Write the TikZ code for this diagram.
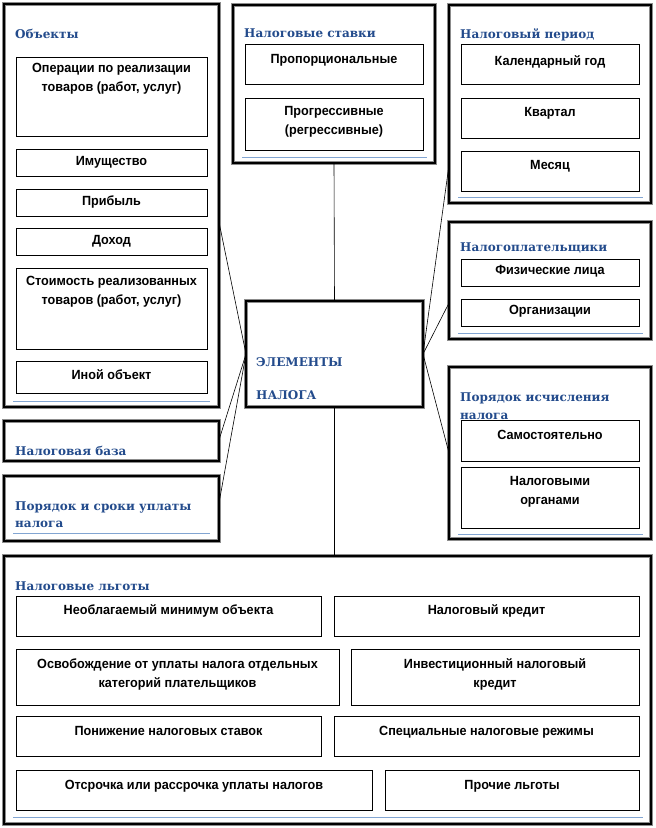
\documentclass[tikz,border=0pt]{standalone}
\usepackage{fontspec}
\setmainfont{Liberation Sans}
\newfontfamily\ttlfont{DejaVu Serif}
\newfontfamily\inrfont[FakeStretch=0.95]{Liberation Sans}
\usetikzlibrary{calc}
\definecolor{ttlblue}{RGB}{35,75,140}
\definecolor{sepblue}{RGB}{130,165,210}
\tikzset{
  outer/.style={draw=black, line width=2.4pt, preaction={draw=black!45, line width=3.6pt}, inner sep=0pt, outer sep=0pt, anchor=north west},
  ibox/.style={draw=black, line width=0.9pt, fill=white, inner sep=0pt, outer sep=0pt, anchor=north west},
  itext/.style={font=\inrfont\bfseries\fontsize{13.3}{19}\selectfont, align=center, inner sep=0pt, anchor=north},
  ttl/.style={font=\ttlfont\bfseries\fontsize{12}{18}\selectfont, text=ttlblue, anchor=base west, inner sep=0pt},
  sepl/.style={draw=sepblue, line width=0.8pt},
  conn/.style={draw=black, line width=0.6pt}
}
\newcommand\obox[5]{\node[outer, minimum width={(#4-#2)*1pt}, minimum height={(#5-#3)*1pt}] (#1) at (#2,#3) {};}
\newcommand\ibox[7]{%
  \node[ibox, minimum width={(#4-#2)*1pt}, minimum height={(#5-#3)*1pt}] (#1) at (#2,#3) {};
  \node[itext] (#1t) at ({(#2+#4)/2},{#6-4.5}) {#7};}
\begin{document}
\begin{tikzpicture}[x=1pt,y=-1pt]
\useasboundingbox[fill=white] (0,0) rectangle (656,828);

% outer boxes
\obox{obj}{4}{4}{219}{407}
\obox{stav}{233}{5}{435}{163}
\obox{per}{449}{5}{651}{203}
\obox{pay}{449}{222}{651}{339}
\obox{isch}{449}{367}{651}{539}
\obox{baza}{4}{421}{219}{461}
\obox{srok}{4}{476}{219}{541}
\obox{lgot}{4}{556}{651}{824}
\obox{cent}{246}{301}{423}{407}

% connectors
\coordinate (aObj) at (219,222);
\coordinate (aBaza) at (219,440);
\coordinate (aSrok) at (219,503);
\coordinate (aPer) at (449,165);
\coordinate (aPay) at (449,303);
\coordinate (aIsch) at (449,453);
\draw[conn] (cent.west) -- (aObj);
\draw[conn] (cent.west) -- (aBaza);
\draw[conn] (cent.west) -- (aSrok);
\draw[conn] (cent.east) -- (aPer);
\draw[conn] (cent.east) -- (aPay);
\draw[conn] (cent.east) -- (aIsch);
\draw[conn] (stav.south) -- (cent.north);
\draw[conn] (cent.south) -- (cent.south |- lgot.north);

% separator lines
\draw[sepl] (13,401) -- (210,401);
\draw[sepl] (242,157) -- (427,157);
\draw[sepl] (458,197) -- (643,197);
\draw[sepl] (458,333) -- (643,333);
\draw[sepl] (458,534) -- (643,534);
\draw[sepl] (13,533) -- (210,533);
\draw[sepl] (13,817) -- (643,817);

% titles
\node[ttl] (tObj) at (15,38) {Объекты};
\node[ttl] (tStav) at (244,37) {Налоговые ставки};
\node[ttl] (tPer) at (460,38) {Налоговый период};
\node[ttl] (tPay) at (460,251) {Налогоплательщики};
\node[ttl] (tIsch1) at (460,401) {Порядок исчисления};
\node[ttl] (tIsch2) at (460,419) {налога};
\node[ttl] (tBaza) at (15,455) {Налоговая база};
\node[ttl] (tSrok1) at (15,510) {Порядок и сроки уплаты};
\node[ttl] (tSrok2) at (15,527) {налога};
\node[ttl] (tCent1) at (256,366) {ЭЛЕМЕНТЫ};
\node[ttl] (tCent2) at (256,399) {НАЛОГА};
\node[ttl] (tLgot) at (15,590) {Налоговые льготы};

% inner boxes: objects
\ibox{op}{16}{57}{207}{136}{68}{Операции по реализации\\товаров (работ, услуг)}
\ibox{im}{16}{149}{207}{176}{161}{Имущество}
\ibox{pr}{16}{189}{207}{216}{200}{Прибыль}
\ibox{doh}{16}{228}{207}{255}{240}{Доход}
\ibox{sto}{16}{268}{207}{349}{281}{Стоимость реализованных\\товаров (работ, услуг)}
\ibox{ino}{16}{361}{207}{393}{374}{Иной объект}
% rates
\ibox{prop}{245}{44}{423}{84}{59}{Пропорциональные}
\ibox{prog}{245}{98}{423}{150}{111}{Прогрессивные\\(регрессивные)}
% period
\ibox{kal}{461}{44}{639}{84}{60}{Календарный год}
\ibox{kv}{461}{98}{639}{138}{112}{Квартал}
\ibox{mes}{461}{151}{639}{191}{165}{Месяц}
% payers
\ibox{fiz}{461}{259}{639}{286}{270}{Физические лица}
\ibox{org}{461}{299}{639}{326}{310}{Организации}
% calculation
\ibox{sam}{461}{420}{639}{461}{435}{Самостоятельно}
\ibox{nor}{461}{467}{639}{528}{481}{Налоговыми\\органами}
% benefits
\ibox{la}{16}{596}{321}{636}{609}{Необлагаемый минимум объекта}
\ibox{lb}{334}{596}{639}{636}{609}{Налоговый кредит}
\ibox{lc}{16}{649}{339}{705}{663}{Освобождение от уплаты налога отдельных\\категорий плательщиков}
\ibox{ld}{351}{649}{639}{705}{663}{Инвестиционный налоговый\\кредит}
\ibox{le}{16}{716}{321}{756}{731}{Понижение налоговых ставок}
\ibox{lf}{334}{716}{639}{756}{731}{Специальные налоговые режимы}
\ibox{lg}{16}{770}{372}{810}{785}{Отсрочка или рассрочка уплаты налогов}
\ibox{lh}{385}{770}{639}{810}{785}{Прочие льготы}
\end{tikzpicture}
\end{document}
